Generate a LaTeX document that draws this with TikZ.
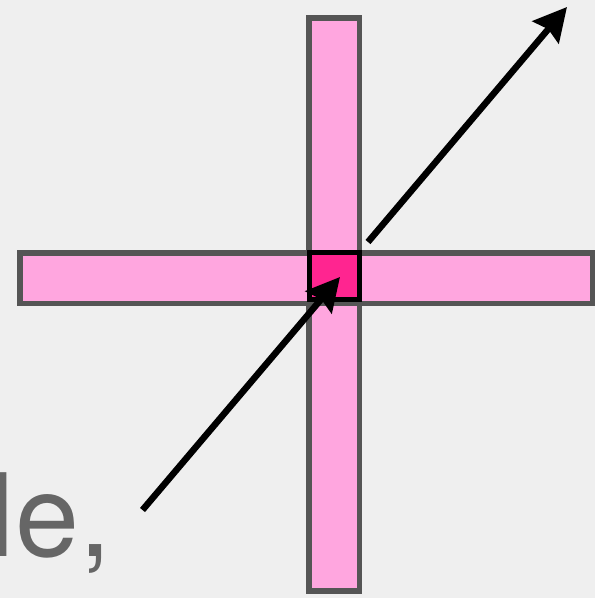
\documentclass[tikz,border=0pt]{standalone}
\usepackage{fontspec}
\setmainfont{TeX Gyre Heros}
\usetikzlibrary{arrows.meta}
\definecolor{bgc}{HTML}{EFEFEF}
\definecolor{pinkl}{HTML}{FFA6DF}
\definecolor{pinkd}{HTML}{FF2590}
\definecolor{barline}{HTML}{555555}
\definecolor{txtc}{HTML}{666666}
\tikzset{
  bar/.style={draw=barline, fill=pinkl, line width=5.5pt, inner sep=0pt, rectangle},
  core/.style={draw=black, fill=pinkd, line width=5pt, inner sep=0pt, rectangle},
  ray/.style={line width=6.5pt, black, -{Stealth[length=33pt,width=34pt,inset=4pt]}},
}
\begin{document}
\begin{tikzpicture}[x=1pt,y=-1pt]
\fill[bgc] (0,0) rectangle (595,598);
\useasboundingbox (0,0) rectangle (595,598);
\node[bar, minimum width=50.5pt, minimum height=573pt] (vbar) at (334.25,304.5) {};
\node[bar, minimum width=573pt, minimum height=50.5pt] (hbar) at (306.5,278.25) {};
\node[core, minimum width=50pt, minimum height=46.5pt] (sq) at (334,275.8) {};
\node[txtc, anchor=base west, inner sep=0pt, font=\fontsize{115}{115}\selectfont] (lbl) at (-10.5,556) {le,};
\coordinate (a1s) at (142.5,510);
\coordinate (a1e) at (340,277);
\coordinate (a2s) at (368,242);
\coordinate (a2e) at (567,7);
\draw[ray] (a1s) -- (a1e);
\draw[ray] (a2s) -- (a2e);
\end{tikzpicture}
\end{document}
